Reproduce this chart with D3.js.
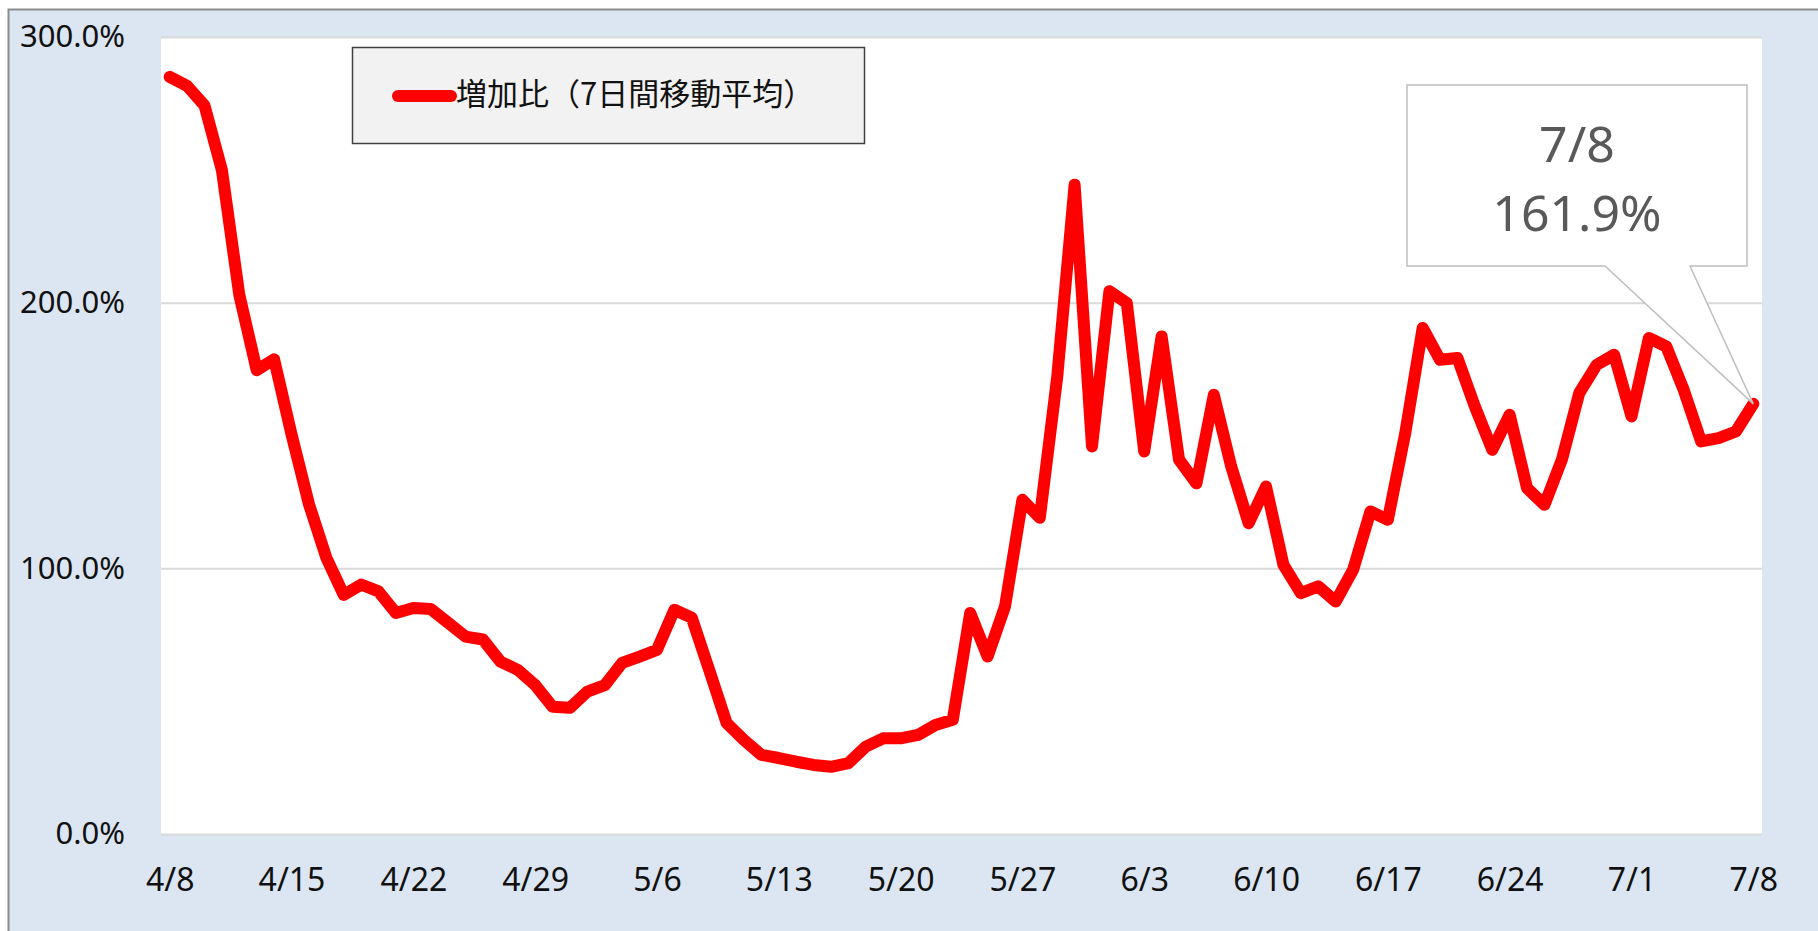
<!DOCTYPE html>
<html>
<head>
<meta charset="utf-8">
<script src="https://cdn.jsdelivr.net/npm/d3@7"></script>
<style>
  html, body { margin: 0; padding: 0; background: #fff; }
  svg { display: block; }
</style>
</head>
<body>
<div id="chart"></div>
<script>
const svgWidth = 1818;
const svgHeight = 931;

// daily categories 4/8 .. 7/8
const dates = [
  '4/8','4/9','4/10','4/11','4/12','4/13','4/14','4/15','4/16','4/17','4/18','4/19','4/20','4/21','4/22','4/23',
  '4/24','4/25','4/26','4/27','4/28','4/29','4/30','5/1','5/2','5/3','5/4','5/5','5/6','5/7','5/8','5/9',
  '5/10','5/11','5/12','5/13','5/14','5/15','5/16','5/17','5/18','5/19','5/20','5/21','5/22','5/23','5/24','5/25',
  '5/26','5/27','5/28','5/29','5/30','5/31','6/1','6/2','6/3','6/4','6/5','6/6','6/7','6/8','6/9','6/10',
  '6/11','6/12','6/13','6/14','6/15','6/16','6/17','6/18','6/19','6/20','6/21','6/22','6/23','6/24','6/25','6/26',
  '6/27','6/28','6/29','6/30','7/1','7/2','7/3','7/4','7/5','7/6','7/7','7/8'
];

// 増加比（7日間移動平均）, percent
const ratio = [
  285.0, 281.6, 274.2, 249.9, 202.9, 174.6, 178.7, 150.4, 124.2, 104.0, 90.0, 93.9, 91.3, 83.2, 85.1, 84.7,
  79.5, 74.3, 73.2, 64.9, 61.8, 56.1, 47.9, 47.5, 53.6, 56.0, 64.4, 66.8, 69.3, 84.4, 81.4, 61.8,
  41.8, 35.4, 29.8, 28.6, 27.2, 26.0, 25.3, 26.7, 32.9, 36.0, 36.0, 37.3, 41.0, 43.0, 83.2, 66.8,
  85.6, 125.8, 119.0, 172.0, 244.4, 145.9, 204.3, 199.9, 144.0, 187.3, 140.9, 132.0, 165.3, 138.3, 117.0, 130.8,
  101.3, 90.7, 93.2, 87.5, 99.4, 121.4, 118.3, 150.9, 190.5, 178.5, 179.2, 160.9, 144.6, 157.8, 130.2, 123.9,
  140.9, 166.0, 176.6, 180.4, 157.2, 186.7, 183.5, 167.2, 147.8, 149.0, 151.5, 161.9
];

const tickLabels = ['4/8','4/15','4/22','4/29','5/6','5/13','5/20','5/27','6/3','6/10','6/17','6/24','7/1','7/8'];
const yTicks = [0, 100, 200, 300];
const seriesName = '増加比（7日間移動平均）';
const calloutLines = ['7/8', '161.9%'];

const plot = { left: 161, right: 1762, top: 37, bottom: 834 };
const tickFont = "'Noto Sans', 'Open Sans', sans-serif";

const svg = d3.select('#chart')
  .append('svg')
  .attr('width', svgWidth)
  .attr('height', svgHeight);

// chart area background
svg.append('rect')
  .attr('x', 8.5).attr('y', 9.5)
  .attr('width', svgWidth).attr('height', svgHeight)
  .attr('fill', '#DCE6F2')
  .attr('stroke', '#8C8C8C')
  .attr('stroke-width', 2);

svg.append('rect')
  .attr('x', plot.left).attr('y', plot.top)
  .attr('width', plot.right - plot.left).attr('height', plot.bottom - plot.top)
  .attr('fill', '#fff');

const x = d3.scalePoint()
  .domain(dates)
  .range([plot.left, plot.right])
  .padding(0.5);

const y = d3.scaleLinear()
  .domain([0, 300])
  .range([plot.bottom, plot.top]);

// gridlines + y labels
const yAxis = d3.axisLeft(y)
  .tickValues(yTicks)
  .tickSize(-(plot.right - plot.left))
  .tickPadding(36)
  .tickFormat(d => d.toFixed(1) + '%');

const gy = svg.append('g')
  .attr('transform', `translate(${plot.left},0)`)
  .call(yAxis);
gy.select('.domain').remove();
gy.selectAll('.tick line').attr('stroke', '#D9D9D9').attr('stroke-width', 2);
gy.selectAll('.tick text')
  .attr('font-family', tickFont)
  .attr('font-size', 31)
  .attr('fill', '#111');

// x labels
const xAxis = d3.axisBottom(x)
  .tickValues(tickLabels)
  .tickSize(0)
  .tickPadding(46);

const gx = svg.append('g')
  .attr('transform', `translate(0,${plot.bottom})`)
  .call(xAxis);
gx.select('.domain').remove();
gx.selectAll('.tick text')
  .attr('font-family', tickFont)
  .attr('font-size', 32)
  .attr('fill', '#111')
  .attr('dy', '0.35em');

// line
const line = d3.line()
  .x((d, i) => x(dates[i]))
  .y(d => y(d));

svg.append('path')
  .datum(ratio)
  .attr('fill', 'none')
  .attr('stroke', '#FF0000')
  .attr('stroke-width', 12)
  .attr('stroke-linejoin', 'round')
  .attr('stroke-linecap', 'round')
  .attr('d', line);

// legend
const legend = svg.append('g');
legend.append('rect')
  .attr('x', 352.5).attr('y', 47.5)
  .attr('width', 512).attr('height', 96)
  .attr('fill', '#F2F2F2')
  .attr('stroke', '#404040')
  .attr('stroke-width', 1.5);
legend.append('line')
  .attr('x1', 398).attr('x2', 451)
  .attr('y1', 96).attr('y2', 96)
  .attr('stroke', '#FF0000')
  .attr('stroke-width', 12)
  .attr('stroke-linecap', 'round');
legend.append('text')
  .attr('x', 456).attr('y', 91)
  .attr('dominant-baseline', 'central')
  .attr('font-family', "'Noto Sans CJK JP', sans-serif")
  .attr('font-size', 31)
  .attr('fill', '#111')
  .text(seriesName);

// callout for last point
const lastX = x(dates[dates.length - 1]);
const lastY = y(ratio[ratio.length - 1]);
const box = { x0: 1407, x1: 1747, y0: 85, y1: 266 };
svg.append('path')
  .attr('d', `M${box.x0},${box.y0}H${box.x1}V${box.y1}H1690L${lastX},${lastY}L1605,${box.y1}H${box.x0}Z`)
  .attr('fill', '#fff')
  .attr('stroke', '#BFBFBF')
  .attr('stroke-width', 1.5);

svg.selectAll('.callout')
  .data(calloutLines)
  .join('text')
  .attr('class', 'callout')
  .attr('x', (box.x0 + box.x1) / 2)
  .attr('y', (d, i) => 143 + i * 69)
  .attr('text-anchor', 'middle')
  .attr('dominant-baseline', 'central')
  .attr('font-family', tickFont)
  .attr('font-size', 50)
  .attr('fill', '#595959')
  .text(d => d);
</script>
</body>
</html>
